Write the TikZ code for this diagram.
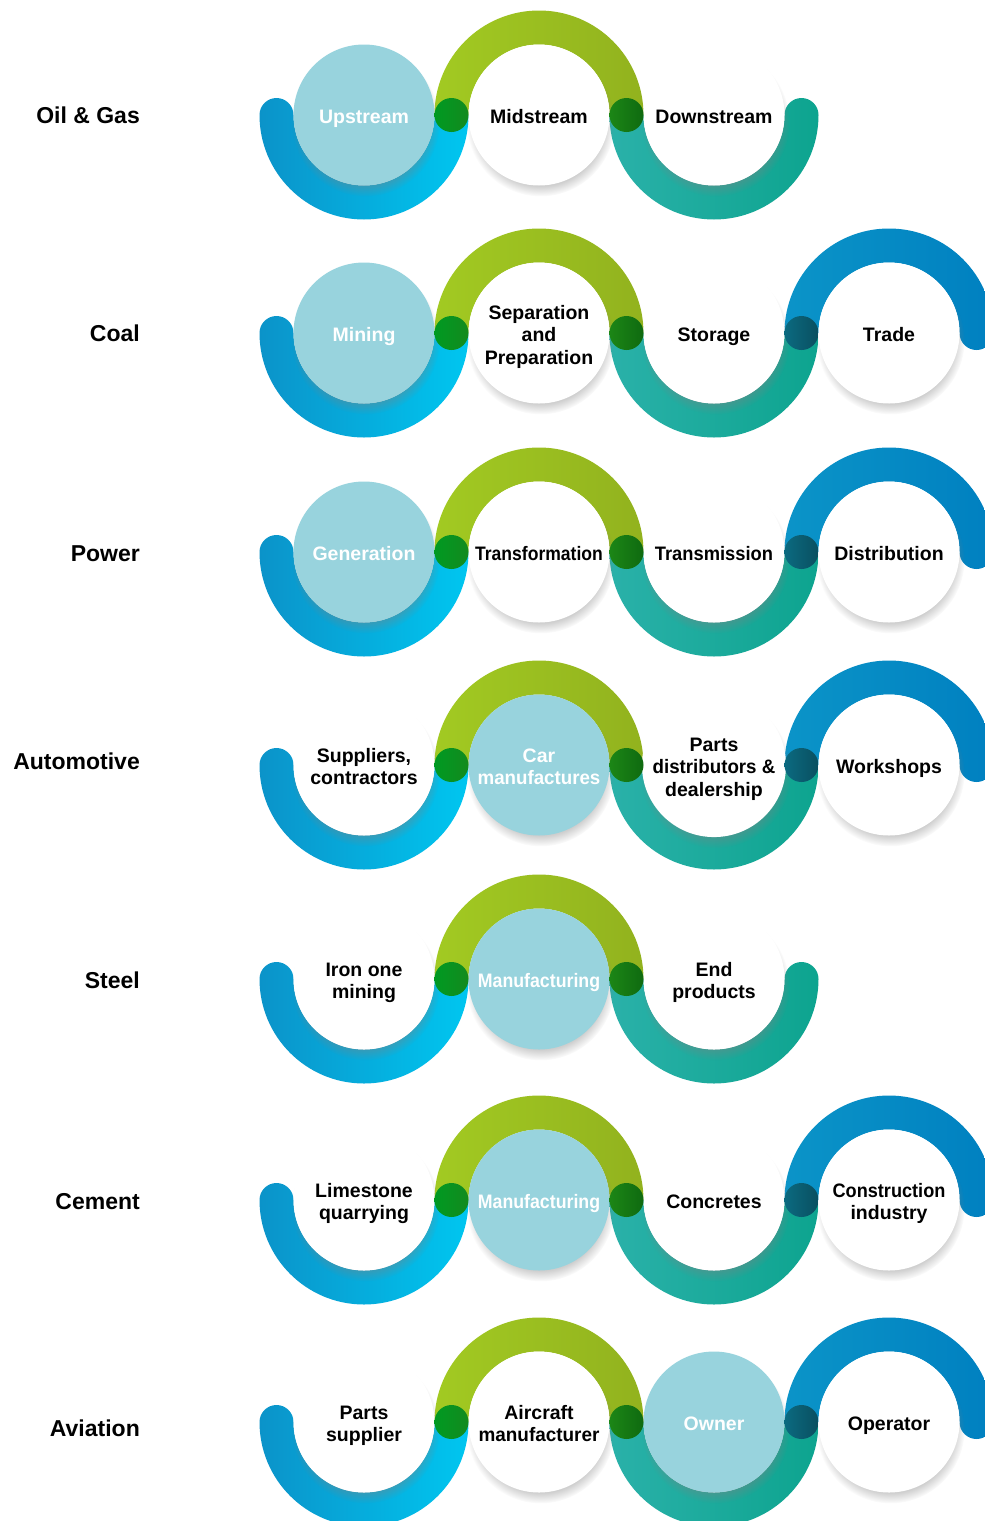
\documentclass[tikz,border=0pt]{standalone}
\usepackage{fontspec}
\usepackage{graphicx}
\setmainfont{Liberation Sans}
\usetikzlibrary{shadows,fadings}
\definecolor{lbfill}{HTML}{98D3DD}
\definecolor{blueL}{HTML}{0B93C9}
\definecolor{blueR}{HTML}{00C6F0}
\definecolor{greenL}{HTML}{A2CA22}
\definecolor{greenR}{HTML}{92B21E}
\definecolor{tealL}{HTML}{2AB1A9}
\definecolor{tealR}{HTML}{0DA48F}
\definecolor{dblueL}{HTML}{0B94C8}
\definecolor{dblueR}{HTML}{0080C0}
\definecolor{dotAL}{HTML}{009A22}
\definecolor{dotAR}{HTML}{138A1E}
\definecolor{dotBL}{HTML}{1C8616}
\definecolor{dotBR}{HTML}{0F6A10}
\definecolor{dotCL}{HTML}{0B6A80}
\definecolor{dotCR}{HTML}{0A4F60}
\tikzset{
  stage/.style={circle, minimum size=141pt, inner sep=0pt,
    font=\bfseries\fontsize{19.5}{22.5}\selectfont,
    circular drop shadow={shadow xshift=1.5pt, shadow yshift=-7pt, shadow scale=1.05, opacity=0.38}},
  wstage/.style={stage, fill=white, text=black},
  bstage/.style={stage, fill=lbfill, text=white},
  rowlabel/.style={anchor=east, inner sep=0pt, text height=16.5pt, text depth=0pt,
    font=\bfseries\fontsize{23}{27}\selectfont}
}
% stage text: extra empty height on top so that the text sits a little lower
\newcommand\st[1]{\raisebox{0pt}[\dimexpr\height+8pt\relax][\depth]{\begin{tabular}{@{}c@{}}#1\end{tabular}}}
% bottom band, cap on left end
\newcommand\bandBL[4]{\shade[left color=#3,right color=#4] (#1-104.5,#2) arc[start angle=180,end angle=360,radius=104.5] -- (#1+70.5,#2) arc[start angle=0,end angle=-180,radius=70.5] arc[start angle=0,end angle=180,radius=17] -- cycle;}
% bottom band, cap on right end
\newcommand\bandBR[4]{\shade[left color=#3,right color=#4] (#1-104.5,#2) arc[start angle=180,end angle=360,radius=104.5] arc[start angle=0,end angle=180,radius=17] arc[start angle=0,end angle=-180,radius=70.5] -- cycle;}
% bottom band, no cap
\newcommand\bandBN[4]{\shade[left color=#3,right color=#4] (#1-104.5,#2) arc[start angle=180,end angle=360,radius=104.5] -- (#1+70.5,#2) arc[start angle=0,end angle=-180,radius=70.5] -- cycle;}
% top band, no cap
\newcommand\bandTN[4]{\shade[left color=#3,right color=#4] (#1-104.5,#2) arc[start angle=180,end angle=0,radius=104.5] -- (#1+70.5,#2) arc[start angle=0,end angle=180,radius=70.5] -- cycle;}
% top band, cap on right end
\newcommand\bandTR[4]{\shade[left color=#3,right color=#4] (#1-104.5,#2) arc[start angle=180,end angle=0,radius=104.5] arc[start angle=0,end angle=-180,radius=17] arc[start angle=0,end angle=180,radius=70.5] -- cycle;}
\newcommand\joint[4]{\shade[left color=#3,right color=#4] (#1,#2) circle[radius=17];}
\newcommand\arcsThree[1]{%
  \bandBL{364}{#1}{blueL}{blueR}
  \bandTN{539}{#1}{greenL}{greenR}
  \bandBR{714}{#1}{tealL}{tealR}}
\newcommand\arcsFour[1]{%
  \bandBL{364}{#1}{blueL}{blueR}
  \bandTN{539}{#1}{greenL}{greenR}
  \bandBN{714}{#1}{tealL}{tealR}
  \bandTR{889}{#1}{dblueL}{dblueR}}
\newcommand\jointsThree[1]{%
  \joint{451.5}{#1}{dotAL}{dotAR}
  \joint{626.5}{#1}{dotBL}{dotBR}}
\newcommand\jointsFour[1]{%
  \jointsThree{#1}
  \joint{801.5}{#1}{dotCL}{dotCR}}
\begin{document}
\begin{tikzpicture}[x=1pt,y=1pt]
\useasboundingbox (0,0) rectangle (985,-1521);
\fill[white] (0,0) rectangle (985,-1521);
\clip (0,0) rectangle (985,-1521);

% ---------- Oil & Gas ----------
\node[rowlabel] (l1) at (140,-115) {Oil \& Gas};
\arcsThree{-115}
\node[bstage] (a1) at (364,-115) {\st{Upstream}};
\node[wstage] (a2) at (539,-115) {\st{Midstream}};
\node[wstage] (a3) at (714,-115) {\st{Downstream}};
\jointsThree{-115}

% ---------- Coal ----------
\node[rowlabel] (l2) at (140,-333) {Coal};
\arcsFour{-333}
\node[bstage] (b1) at (364,-333) {\st{Mining}};
\node[wstage] (b2) at (539,-333) {\st{Separation\\and\\Preparation}};
\node[wstage] (b3) at (714,-333) {\st{Storage}};
\node[wstage] (b4) at (889,-333) {\st{Trade}};
\jointsFour{-333}

% ---------- Power ----------
\node[rowlabel] (l3) at (140,-553) {Power};
\arcsFour{-552}
\node[bstage] (c1) at (364,-552) {\st{Generation}};
\node[wstage] (c2) at (539,-552) {\st{\scalebox{0.9}[1]{Transformation}}};
\node[wstage] (c3) at (714,-552) {\st{\scalebox{0.94}[1]{Transmission}}};
\node[wstage] (c4) at (889,-552) {\st{Distribution}};
\jointsFour{-552}

% ---------- Automotive ----------
\node[rowlabel] (l4) at (140,-761) {Automotive};
\arcsFour{-765}
\node[wstage] (d1) at (364,-765) {\st{Suppliers,\\contractors}};
\node[bstage] (d2) at (539,-765) {\st{Car\\\scalebox{0.96}[1]{manufactures}}};
\node[wstage] (d3) at (714,-765) {\st{Parts\\\scalebox{0.96}[1]{distributors \&}\\dealership}};
\node[wstage] (d4) at (889,-765) {\st{Workshops}};
\jointsFour{-765}

% ---------- Steel ----------
\node[rowlabel] (l5) at (140,-980) {Steel};
\arcsThree{-979}
\node[wstage] (e1) at (364,-979) {\st{Iron one\\mining}};
\node[bstage] (e2) at (539,-979) {\st{\scalebox{0.91}[1]{Manufacturing}}};
\node[wstage] (e3) at (714,-979) {\st{End\\products}};
\jointsThree{-979}

% ---------- Cement ----------
\node[rowlabel] (l6) at (140,-1201) {Cement};
\arcsFour{-1200}
\node[wstage] (f1) at (364,-1200) {\st{Limestone\\quarrying}};
\node[bstage] (f2) at (539,-1200) {\st{\scalebox{0.91}[1]{Manufacturing}}};
\node[wstage] (f3) at (714,-1200) {\st{Concretes}};
\node[wstage] (f4) at (889,-1200) {\st{\scalebox{0.93}[1]{Construction}\\industry}};
\jointsFour{-1200}

% ---------- Aviation ----------
\node[rowlabel] (l7) at (140,-1428) {Aviation};
\arcsFour{-1422}
\node[wstage] (g1) at (364,-1422) {\st{Parts\\supplier}};
\node[wstage] (g2) at (539,-1422) {\st{Aircraft\\\scalebox{0.97}[1]{manufacturer}}};
\node[bstage] (g3) at (714,-1422) {\st{Owner}};
\node[wstage] (g4) at (889,-1422) {\st{Operator}};
\jointsFour{-1422}
\end{tikzpicture}
\end{document}
